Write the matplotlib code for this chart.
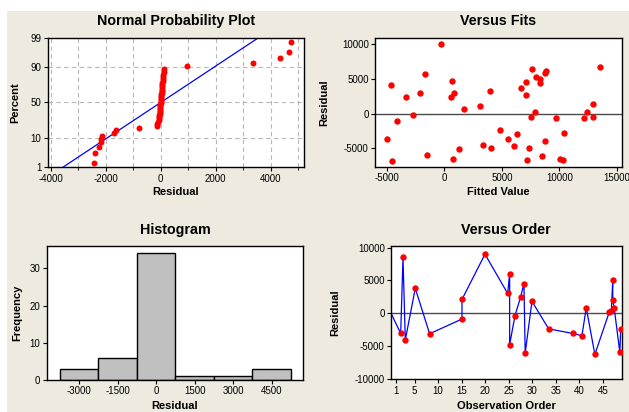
import matplotlib
matplotlib.use("Agg")
import matplotlib.pyplot as plt
from matplotlib.patches import Rectangle
from statistics import NormalDist
import numpy as np

plt.rcParams['font.family'] = ['Liberation Sans', 'DejaVu Sans']
plt.rcParams['axes.unicode_minus'] = False

# --- data ---
# normal probability plot: sorted residuals
npp_resid = [-2414, -2378, -2255, -2180, -2160, -2135, -1690, -1620, -780,
             -128, -117, -88, -71, -62, -53, -46, -41, -34, -29,
             -26, -19, -14, -11, -4, 1, 4, 9, 16, 19,
             26, 31, 34, 41, 46, 52, 56, 61, 67, 72,
             79, 92, 104, 122,
             945, 3368, 4326, 4654, 4738]
npp_fit_mean = 0
npp_fit_sd = 1530
pct_ticks = [1, 10, 50, 90, 99]

# versus fits
fits_x = [-4957, -4661, -4548, -4087, -3304, -2722, -2139, -1652, -1478, -287,
          557, 670, 783, 870, 1252, 1713, 3078, 3365, 3948, 4061,
          4817, 5513, 6061, 6296, 6670, 7131, 7131, 7218, 7339, 7513,
          7626, 7913, 8000, 8296, 8296, 8496, 8757, 8783, 8870, 9740,
          10035, 10322, 10409, 12148, 12435, 12905, 12931, 13514]
fits_y = [-3690, 4090, -6860, -1010, 2360, -190, 2980, 5720, -5910, 10000,
          2360, 4710, -6530, 2980, -5130, 630, 1070, -4470, 3310, -4940,
          -2400, -3690, -4650, -2880, 3750, 4570, 2650, -6720, -4940, -480,
          6480, 290, 5240, 5050, 4420, -6050, 5860, -3980, 6150, -620,
          -6530, -6720, -2740, -620, 290, -480, 1400, 6690]

# histogram
hist_centers = [-3000, -1500, 0, 1500, 3000, 4500]
hist_counts = [3, 6, 34, 1, 1, 3]
hist_width = 1500

# versus order (first entry is the line start, no marker)
order_x = [0, 2.06, 2.55, 3.04, 5.16, 8.2, 15.08, 15.08, 19.96, 24.78,
           25.2, 25.2, 26.33, 27.54, 28.24, 28.5, 29.94, 33.48, 38.64, 40.55,
           41.47, 43.3, 46.4, 46.8, 47.1, 47.1, 47.4, 48.6, 48.8]
order_y = [0, -3100, 8500, -4100, 3800, -3150, -900, 2100, 9000, 3000,
           6000, -4800, -400, 2500, 4500, -6100, 1800, -2400, -3100, -3450,
           800, -6300, 250, 400, 5000, 2000, 800, -5950, -2450]

BG = '#EEEAE0'
RED = '#FF0000'
BLUE = '#0000FF'
TITLE_KW = dict(fontsize=10.3, fontweight='bold', pad=9)
LABEL_KW = dict(fontsize=8, fontweight='bold')

fig = plt.figure(figsize=(6.29, 4.12), dpi=100)
fig.patch.set_facecolor('white')
fig.patches.append(Rectangle((7 / 629, 0), 1, 1 - 11 / 412, transform=fig.transFigure,
                             facecolor=BG, edgecolor='none', zorder=-10))


def style(ax):
    ax.set_facecolor('white')
    for s in ax.spines.values():
        s.set_linewidth(1.0)
        s.set_color('black')
    ax.tick_params(labelsize=7, length=3, width=0.8, direction='out', pad=1.5)
    ax.tick_params(which='minor', length=2, width=0.6)


# --- normal probability plot ---
ax1 = fig.add_axes([0.0758, 0.594, 0.4075, 0.3146])
style(ax1)
nd = NormalDist()
n = len(npp_resid)
z = [nd.inv_cdf((i + 1 - 0.3) / (n + 0.4)) for i in range(n)]
zlo, zhi = nd.inv_cdf(0.01), nd.inv_cdf(0.99)
zl = np.linspace(zlo, zhi, 2)
ax1.plot(npp_fit_mean + npp_fit_sd * zl, zl, color=BLUE, lw=0.9, zorder=2)
ax1.plot(npp_resid, z, 'o', color=RED, ms=4.3, mec='none', zorder=3)
ax1.set_xlim(-4110, 5210)
ax1.set_ylim(zlo, zhi)
ax1.set_xticks([-4000, -2000, 0, 2000, 4000])
ax1.set_xticks(range(-4000, 5001, 1000), minor=True)
ax1.set_yticks([nd.inv_cdf(p / 100) for p in pct_ticks])
ax1.set_yticklabels([str(p) for p in pct_ticks])
ax1.grid(True, which='both', axis='x', color='#b8b8b8', ls=(0, (4, 3)), lw=0.8)
ax1.grid(True, which='major', axis='y', color='#b8b8b8', ls=(0, (4, 3)), lw=0.8)
ax1.set_axisbelow(True)
ax1.set_title('Normal Probability Plot', **TITLE_KW)
ax1.set_xlabel('Residual', **LABEL_KW)
ax1.set_ylabel('Percent', **LABEL_KW)
ax1.xaxis.set_label_coords(0.5, -0.15)
ax1.yaxis.set_label_coords(-0.108, 0.5)

# --- versus fits ---
ax2 = fig.add_axes([0.5962, 0.5954, 0.3922, 0.3131])
style(ax2)
ax2.axhline(0, color='#4a4a4a', lw=1.0, zorder=1)
ax2.plot(fits_x, fits_y, 'o', color=RED, ms=4.6, mec='none', zorder=3)
ax2.set_xlim(-6030, 15430)
ax2.set_ylim(-7640, 10950)
ax2.set_xticks([-5000, 0, 5000, 10000, 15000])
ax2.set_yticks([-5000, 0, 5000, 10000])
ax2.set_title('Versus Fits', **TITLE_KW)
ax2.set_xlabel('Fitted Value', **LABEL_KW)
ax2.set_ylabel('Residual', **LABEL_KW)
ax2.xaxis.set_label_coords(0.5, -0.155)
ax2.yaxis.set_label_coords(-0.186, 0.5)

# --- histogram ---
ax3 = fig.add_axes([0.0742, 0.0777, 0.408, 0.3252])
style(ax3)
ax3.bar(hist_centers, hist_counts, width=hist_width, color='#C0C0C0',
        edgecolor='black', linewidth=1.0)
ax3.set_xlim(-4270, 5735)
ax3.set_ylim(0, 36)
ax3.set_xticks(hist_centers)
ax3.set_yticks([0, 10, 20, 30])
ax3.set_title('Histogram', **TITLE_KW)
ax3.set_xlabel('Residual', **LABEL_KW)
ax3.set_ylabel('Frequency', **LABEL_KW)
ax3.xaxis.set_label_coords(0.5, -0.16)
ax3.yaxis.set_label_coords(-0.097, 0.5)

# --- versus order ---
ax4 = fig.add_axes([0.6216, 0.0794, 0.3668, 0.3235])
style(ax4)
ax4.axhline(0, color='#4a4a4a', lw=1.0, zorder=1)
ax4.plot(order_x, order_y, '-', color=BLUE, lw=0.9, zorder=2)
ax4.plot(order_x[1:], order_y[1:], 'o', color=RED, ms=4.6, mec='none', zorder=3)
ax4.set_xlim(0, 49)
ax4.set_ylim(-10100, 10250)
ax4.set_xticks([1, 5, 10, 15, 20, 25, 30, 35, 40, 45])
ax4.set_yticks([-10000, -5000, 0, 5000, 10000])
ax4.set_title('Versus Order', **TITLE_KW)
ax4.set_xlabel('Observation Order', **LABEL_KW)
ax4.set_ylabel('Residual', **LABEL_KW)
ax4.xaxis.set_label_coords(0.5, -0.165)
ax4.yaxis.set_label_coords(-0.221, 0.5)

fig.savefig('out.png', dpi=100, facecolor=fig.get_facecolor())
